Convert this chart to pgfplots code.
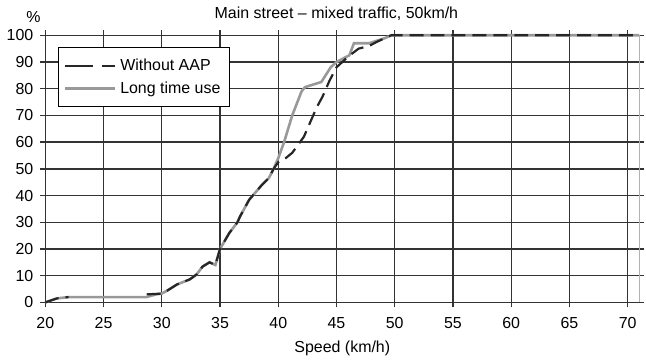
\documentclass[border=0pt]{standalone}
\usepackage{pgfplots}
\pgfplotsset{compat=1.18}
\usepackage{fontspec}
\setmainfont{Liberation Sans}
\begin{document}
\begin{tikzpicture}
\begin{axis}[
  scale only axis,
  width=298pt, height=134pt,
  xmin=20, xmax=71, ymin=0, ymax=100,
  xtick={20,25,...,70}, ytick={0,10,...,100},
  grid=major,
  grid style={black!80, line width=0.7pt},
  axis line style={draw=none},
  tick align=outside,
  major tick length=2.5pt,
  tick style={black!80, line width=0.7pt},
  font=\fontsize{8}{9.6}\selectfont,
  tick label style={font=\fontsize{8}{9.6}\selectfont},
  xticklabel style={yshift=-1.5pt},
  /pgf/number format/assume math mode=true,
  xlabel={Speed (km/h)},
  xlabel style={yshift=3pt},
  extra x ticks={71}, extra x tick labels={},
  extra x tick style={grid style={black!30, line width=0.6pt}, major tick length=0pt},
  unbounded coords=jump,
  reverse legend,
  legend cell align=left,
  legend style={at={(rel axis cs:0.022,0.955)}, anchor=north west,
    draw=black, line width=0.5pt, inner xsep=2.5pt, inner ysep=3.2pt,
    font=\fontsize{8}{9.6}\selectfont,
    nodes={text height=6pt, text depth=1.5pt, inner sep=2pt}},
  clip=false,
]
\addplot[black!40, line width=1.3pt,
  legend image code/.code={\draw[black!40, line width=1.3pt] (0pt,0pt) -- (25pt,0pt);}] coordinates {
(20,0) (21,1.5) (22,2) (25,2) (28.7,2) (29.5,3) (30,3.3) (30.5,4.5) (31.3,6.7)
(32.4,8.6) (33,10.5) (33.5,13.4) (34.1,15) (34.6,14) (35,20) (35.8,26) (36.5,30)
(36.7,32) (37.5,38.4) (38.6,44) (39.2,46.6) (39.6,50) (40,54) (40.5,60) (41.2,70)
(42,79) (42.3,80.6) (43.7,82.5) (44.5,88) (45,90) (46.1,92.5) (46.5,97) (47.8,97)
(49.2,99) (49.7,100) (71,100)
};
\addlegendentry{Long time use}
\addplot[black!85, line width=1.1pt, dash pattern=on 7pt off 3.5pt,
  legend image code/.code={\draw[black!85, line width=1.1pt, dash pattern=on 14pt off 4.5pt] (0pt,0pt) -- (25pt,0pt);}] coordinates {
(20,0) (21,1.5) (22,2) (25,nan) (28.7,3) (30,3.3) (30.5,4.5) (31.3,6.7)
(32.4,8.6) (33,10.5) (33.5,13.4) (34.1,15) (34.6,14) (35,20) (35.8,26) (36.5,30)
(36.7,32) (37.5,38.4) (38.6,44) (39.2,46.6) (39.6,50) (40,52.5) (40.5,53.5) (41.2,56)
(42.2,62) (42.8,68) (43.3,73) (43.8,77) (44.4,83) (45,88) (46,92) (46.9,95)
(47.8,96) (48.4,97.4) (49.7,100) (71,100)
};
\addlegendentry{Without AAP}
\node[anchor=south, font=\fontsize{8}{9.6}\selectfont] at (rel axis cs:0.49,1) [yshift=4pt] {Main street -- mixed traffic, 50km/h};
\node[anchor=south, font=\fontsize{8}{9.6}\selectfont] at (rel axis cs:-0.02,1) [yshift=3pt] {\%};
\end{axis}
\end{tikzpicture}
\end{document}
